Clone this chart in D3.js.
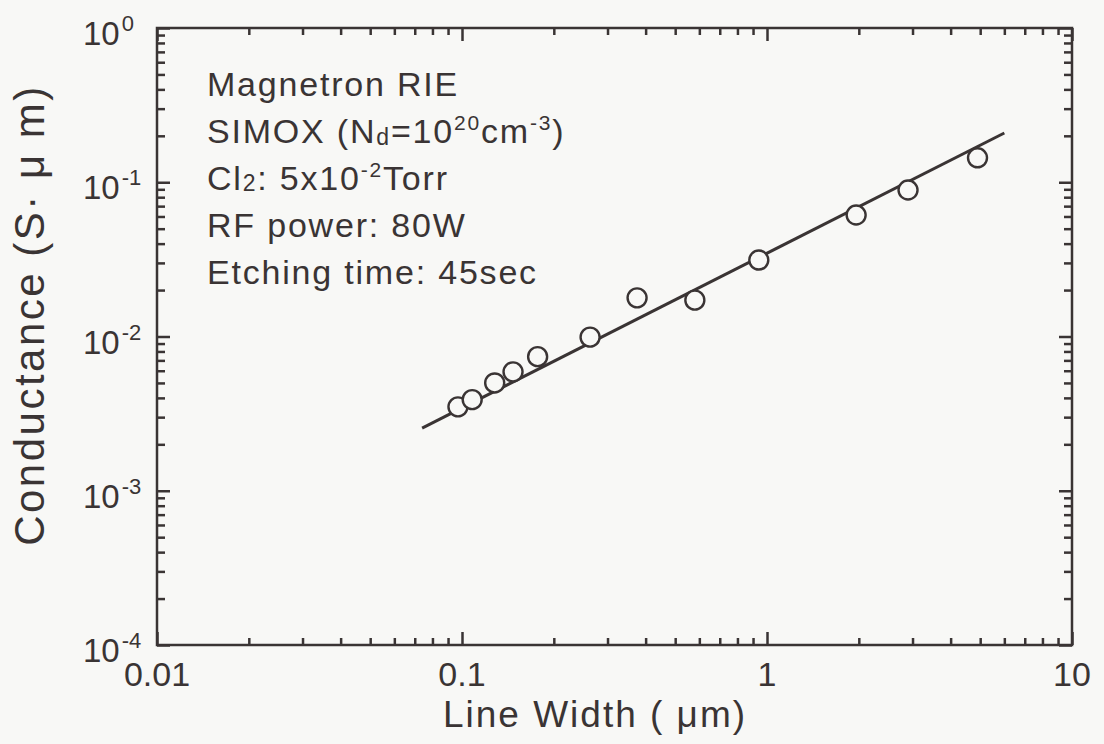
<!DOCTYPE html>
<html>
<head>
<meta charset="utf-8">
<script src="https://cdn.jsdelivr.net/npm/d3@7"></script>
<style>
  body { margin: 0; background: #f8f8f6; }
  svg text { font-family: "Liberation Sans", Arial, sans-serif; fill: #3a3434; }
</style>
</head>
<body>
<div id="chart"></div>
<script>
// measured points: line width (um) vs conductance (S*um)
var widths = [0.097, 0.108, 0.128, 0.147, 0.177, 0.263, 0.375, 0.58, 0.94, 1.96, 2.9, 4.9];
var conductance = [0.0035, 0.0039, 0.0050, 0.0059, 0.0074, 0.0099, 0.0178, 0.0172, 0.0313, 0.0613, 0.089, 0.144];

// fitted line, two end points
var fitX = [0.074, 6.0];
var fitY = [0.00255, 0.2086];

var xTicks = [0.01, 0.1, 1, 10];
var xTickLabels = ["0.01", "0.1", "1", "10"];
var yTicks = [1e-4, 1e-3, 1e-2, 1e-1, 1];
var yTickExp = ["-4", "-3", "-2", "-1", "0"];

var notes = ["Magnetron RIE", "SIMOX", "Cl", "RF power: 80W", "Etching time: 45sec"];

var width = 1104;
var height = 744;
var plotLeft = 157, plotRight = 1072, plotTop = 28, plotBottom = 645;
var ink = "#3a3434";

var svg = d3.select("#chart")
    .append("svg")
    .attr("width", width)
    .attr("height", height);

var x = d3.scaleLog().domain([0.01, 10]).range([plotLeft, plotRight]);
var y = d3.scaleLog().domain([1e-4, 1]).range([plotBottom, plotTop]);

// minor ticks 2..9 in every decade
function minors(lo, hi) {
    var out = [];
    for (var e = lo; e < hi; e++) {
        for (var k = 2; k <= 9; k++) out.push(k * Math.pow(10, e));
    }
    return out;
}
var xMinor = minors(-2, 1);
var yMinor = minors(-4, 0);

function drawAxis(axis, tx, ty) {
    var g = svg.append("g")
        .attr("transform", "translate(" + tx + "," + ty + ")")
        .call(axis);
    g.selectAll("text").remove();
    g.select(".domain").remove();
    g.selectAll("line").attr("stroke", ink).attr("stroke-width", 2.5);
}

// bottom/top
drawAxis(d3.axisBottom(x).tickValues(xTicks).tickSize(-13), 0, plotBottom);
drawAxis(d3.axisBottom(x).tickValues(xMinor).tickSize(-7), 0, plotBottom);
drawAxis(d3.axisTop(x).tickValues(xTicks).tickSize(-13), 0, plotTop);
drawAxis(d3.axisTop(x).tickValues(xMinor).tickSize(-7), 0, plotTop);
// left/right
drawAxis(d3.axisLeft(y).tickValues(yTicks).tickSize(-13), plotLeft, 0);
drawAxis(d3.axisLeft(y).tickValues(yMinor).tickSize(-8), plotLeft, 0);
drawAxis(d3.axisRight(y).tickValues(yTicks).tickSize(-13), plotRight, 0);
drawAxis(d3.axisRight(y).tickValues(yMinor).tickSize(-8), plotRight, 0);

// frame
svg.append("rect")
    .attr("x", plotLeft).attr("y", plotTop)
    .attr("width", plotRight - plotLeft).attr("height", plotBottom - plotTop)
    .attr("fill", "none")
    .attr("stroke", ink)
    .attr("stroke-width", 2.5);

// x tick labels
svg.selectAll(".xlab")
    .data(xTicks)
    .enter()
    .append("text")
    .attr("class", "xlab")
    .attr("x", function (d) { return x(d); })
    .attr("y", plotBottom + 41)
    .attr("text-anchor", "middle")
    .style("font-size", "34px")
    .text(function (d, i) { return xTickLabels[i]; });

// y tick labels 10^n
var ylab = svg.selectAll(".ylab")
    .data(yTicks)
    .enter()
    .append("text")
    .attr("class", "ylab")
    .attr("x", 83)
    .attr("y", function (d) { return y(d) + 17; })
    .style("font-size", "33px");
ylab.append("tspan").text("10");
ylab.append("tspan")
    .attr("dx", 2)
    .attr("dy", -14)
    .style("font-size", "22px")
    .text(function (d, i) { return yTickExp[i]; });

// axis titles
svg.append("text")
    .attr("x", 595)
    .attr("y", 727)
    .attr("text-anchor", "middle")
    .style("font-size", "37px")
    .style("letter-spacing", "2px")
    .text("Line Width ( \u03bcm)");

svg.append("text")
    .attr("transform", "translate(44,315) rotate(-90)")
    .attr("text-anchor", "middle")
    .style("font-size", "42px")
    .style("letter-spacing", "2.5px")
    .text("Conductance (S\u00b7 \u03bc m)");

// fitted line
var line = d3.line()
    .x(function (d) { return x(d[0]); })
    .y(function (d) { return y(d[1]); });

svg.append("path")
    .datum(d3.zip(fitX, fitY))
    .attr("d", line)
    .attr("fill", "none")
    .attr("stroke", ink)
    .attr("stroke-width", 3);

// data points
svg.selectAll(".pt")
    .data(d3.zip(widths, conductance))
    .enter()
    .append("circle")
    .attr("class", "pt")
    .attr("cx", function (d) { return x(d[0]); })
    .attr("cy", function (d) { return y(d[1]); })
    .attr("r", 9.5)
    .attr("fill", "#f8f8f6")
    .attr("stroke", ink)
    .attr("stroke-width", 2.4);

// annotation block
var noteX = 207, noteY = 96, noteGap = 47;
var notes_g = svg.append("g")
    .style("font-size", "34px")
    .style("letter-spacing", "1.8px");
var t;
notes_g.append("text").attr("x", noteX).attr("y", noteY).text(notes[0]);

t = notes_g.append("text").attr("x", noteX).attr("y", noteY + noteGap);
t.append("tspan").text("SIMOX (N");
t.append("tspan").attr("dy", 2).style("font-size", "23px").text("d");
t.append("tspan").attr("dy", -2).text("=10");
t.append("tspan").attr("dy", -13).style("font-size", "21px").text("20");
t.append("tspan").attr("dy", 13).text("cm");
t.append("tspan").attr("dy", -13).style("font-size", "21px").text("-3");
t.append("tspan").attr("dy", 13).text(")");

t = notes_g.append("text").attr("x", noteX).attr("y", noteY + 2 * noteGap);
t.append("tspan").text("Cl");
t.append("tspan").attr("dy", 1).style("font-size", "23px").text("2");
t.append("tspan").attr("dy", -1).text(": 5x10");
t.append("tspan").attr("dy", -13).style("font-size", "21px").text("-2");
t.append("tspan").attr("dy", 13).text("Torr");

notes_g.append("text").attr("x", noteX).attr("y", noteY + 3 * noteGap).text(notes[3]);
notes_g.append("text").attr("x", noteX).attr("y", noteY + 4 * noteGap).text(notes[4]);
</script>
</body>
</html>
